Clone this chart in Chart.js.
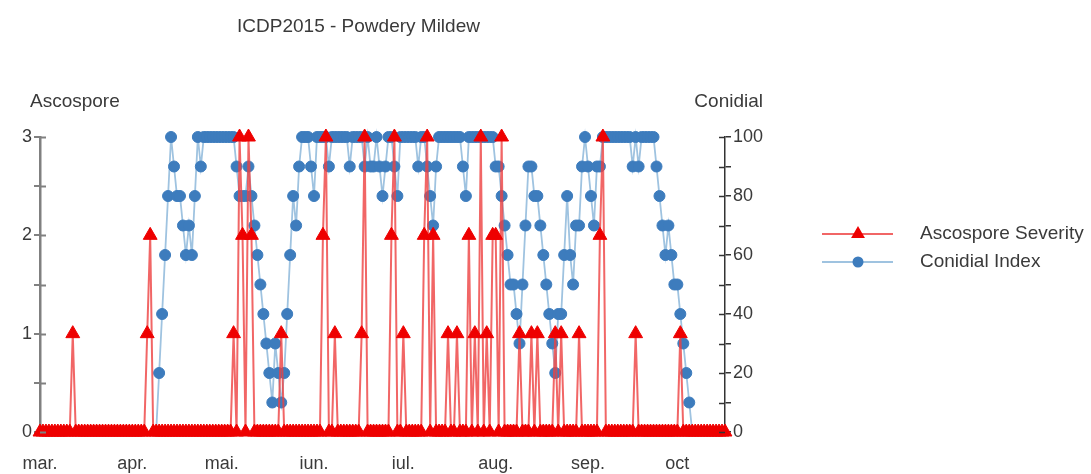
<!DOCTYPE html>
<html>
<head>
<meta charset="utf-8">
<title>ICDP2015 - Powdery Mildew</title>
<script src="https://cdn.jsdelivr.net/npm/chart.js@4.4.1/dist/chart.umd.min.js"></script>
<style>
  html, body { margin: 0; padding: 0; background: #ffffff; }
  #chart { display: block; }
</style>
</head>
<body>
<canvas id="chart" width="1091" height="474"></canvas>
<script>
// Daily readings, 1 March (day 0) to 17 October (day 230)
const chartTitle = 'ICDP2015 - Powdery Mildew';
const leftAxisTitle = 'Ascospore';
const rightAxisTitle = 'Conidial';
const seriesNames = ['Ascospore Severity', 'Conidial Index'];

const monthLabels = ['mar.', 'apr.', 'mai.', 'iun.', 'iul.', 'aug.', 'sep.', 'oct'];
const monthStartDays = [0, 31, 61, 92, 122, 153, 184, 214];

// Ascospore severity (0-3), one value per day
const ascosporeSeverity = [
  0, 0, 0, 0, 0, 0, 0, 0, 0, 0,
  0, 1, 0, 0, 0, 0, 0, 0, 0, 0,
  0, 0, 0, 0, 0, 0, 0, 0, 0, 0,
  0, 0, 0, 0, 0, 0, 1, 2, 0, 0,
  0, 0, 0, 0, 0, 0, 0, 0, 0, 0,
  0, 0, 0, 0, 0, 0, 0, 0, 0, 0,
  0, 0, 0, 0, 0, 1, 0, 3, 2, 0,
  3, 2, 0, 0, 0, 0, 0, 0, 0, 0,
  0, 1, 0, 0, 0, 0, 0, 0, 0, 0,
  0, 0, 0, 0, 0, 2, 3, 0, 0, 1,
  0, 0, 0, 0, 0, 0, 0, 0, 1, 3,
  0, 0, 0, 0, 0, 0, 0, 0, 2, 3,
  0, 0, 1, 0, 0, 0, 0, 0, 0, 2,
  3, 0, 2, 0, 0, 0, 0, 1, 0, 0,
  1, 0, 0, 0, 2, 0, 1, 0, 3, 0,
  1, 0, 2, 2, 0, 3, 0, 0, 0, 0,
  0, 1, 0, 0, 0, 1, 0, 1, 0, 0,
  0, 0, 0, 1, 0, 1, 0, 0, 0, 0,
  0, 1, 0, 0, 0, 0, 0, 0, 2, 3,
  0, 0, 0, 0, 0, 0, 0, 0, 0, 0,
  1, 0, 0, 0, 0, 0, 0, 0, 0, 0,
  0, 0, 0, 0, 0, 1, 0, 0, 0, 0,
  0, 0, 0, 0, 0, 0, 0, 0, 0, 0,
  0
];

// Conidial index (0-100), one value per day
const conidialIndex = [
  0, 0, 0, 0, 0, 0, 0, 0, 0, 0,
  0, 0, 0, 0, 0, 0, 0, 0, 0, 0,
  0, 0, 0, 0, 0, 0, 0, 0, 0, 0,
  0, 0, 0, 0, 0, 0, 0, 0, 0, 0,
  20, 40, 60, 80, 100, 90, 80, 80, 70, 60,
  70, 60, 80, 100, 90, 100, 100, 100, 100, 100,
  100, 100, 100, 100, 100, 100, 90, 80, 80, 80,
  90, 80, 70, 60, 50, 40, 30, 20, 10, 30,
  20, 10, 20, 40, 60, 80, 70, 90, 100, 100,
  100, 90, 80, 100, 100, 100, 100, 90, 100, 100,
  100, 100, 100, 100, 90, 100, 100, 100, 100, 90,
  100, 90, 90, 100, 90, 80, 90, 100, 100, 90,
  80, 100, 100, 100, 100, 100, 100, 90, 100, 100,
  90, 80, 70, 90, 100, 100, 100, 100, 100, 100,
  100, 100, 90, 80, 100, 100, 100, 100, 100, 100,
  100, 100, 100, 90, 90, 80, 70, 60, 50, 50,
  40, 30, 50, 70, 90, 90, 80, 80, 70, 60,
  50, 40, 30, 20, 40, 40, 60, 80, 60, 50,
  70, 70, 90, 100, 90, 80, 70, 90, 90, 100,
  100, 100, 100, 100, 100, 100, 100, 100, 100, 90,
  100, 90, 100, 100, 100, 100, 100, 90, 80, 70,
  60, 70, 60, 50, 50, 40, 30, 20, 10, 0,
  0, 0, 0, 0, 0, 0, 0, 0, 0, 0,
  0
];

const textColor = '#3a3a3a';
const fontFamily = '"Liberation Sans", Arial, sans-serif';
const redLine = 'rgba(238, 64, 64, 0.8)';
const redMark = '#ee0000';
const blueLine = '#9fc3e0';
const blueMark = '#3d7cbd';
const triangleRadius = 8;
const dotRadius = 5.5;

const toPoints = arr => arr.map((v, i) => ({ x: i, y: v }));

// Titles, inner halves of the axis ticks and the line+marker legend
const decorations = {
  id: 'decorations',
  afterDraw(chart) {
    const { ctx, chartArea, scales } = chart;
    ctx.save();

    const inner = [
      { id: 'y', x0: chartArea.left, dir: 1, color: '#808080', width: 2 },
      { id: 'y1', x0: chartArea.right, dir: -1, color: '#333333', width: 1.5 }
    ];
    inner.forEach(a => {
      const s = scales[a.id];
      ctx.strokeStyle = a.color;
      ctx.lineWidth = a.width;
      s.ticks.forEach(t => {
        const y = Math.round(s.getPixelForValue(t.value)) + 0.5;
        ctx.beginPath();
        ctx.moveTo(a.x0, y);
        ctx.lineTo(a.x0 + a.dir * 6, y);
        ctx.stroke();
      });
    });

    ctx.fillStyle = textColor;
    ctx.font = '19px ' + fontFamily;
    ctx.textBaseline = 'middle';
    ctx.textAlign = 'center';
    ctx.fillText(chartTitle, (chartArea.left + chartArea.right) / 2 - 24, 27);
    ctx.textAlign = 'left';
    ctx.fillText(leftAxisTitle, chartArea.left - 10, 102);
    ctx.textAlign = 'right';
    ctx.fillText(rightAxisTitle, chartArea.right + 38, 102);

    // legend
    const lx0 = chartArea.right + 97, lx1 = chartArea.right + 168, mx = chartArea.right + 133;
    chart.data.datasets.forEach((ds, i) => {
      const y = 234 + i * 28;
      ctx.strokeStyle = ds.borderColor;
      ctx.lineWidth = 2;
      ctx.beginPath();
      ctx.moveTo(lx0, y);
      ctx.lineTo(lx1, y);
      ctx.stroke();
      ctx.fillStyle = ds.pointBackgroundColor;
      ctx.beginPath();
      if (ds.pointStyle === 'triangle') {
        const r = triangleRadius;
        ctx.moveTo(mx, y - r);
        ctx.lineTo(mx + r * Math.sin(2 * Math.PI / 3), y + r / 2);
        ctx.lineTo(mx - r * Math.sin(2 * Math.PI / 3), y + r / 2);
        ctx.closePath();
      } else {
        ctx.arc(mx, y, dotRadius, 0, Math.PI * 2);
      }
      ctx.fill();
      ctx.fillStyle = textColor;
      ctx.textAlign = 'left';
      ctx.fillText(ds.label, chartArea.right + 195, y);
    });

    ctx.restore();
  }
};

new Chart(document.getElementById('chart'), {
  type: 'line',
  data: {
    datasets: [
      {
        label: seriesNames[0],
        data: toPoints(ascosporeSeverity),
        yAxisID: 'y',
        borderColor: redLine,
        borderWidth: 2,
        pointStyle: 'triangle',
        pointRadius: triangleRadius,
        pointBackgroundColor: redMark,
        pointBorderColor: redMark,
        pointBorderWidth: 1,
        tension: 0,
        clip: false
      },
      {
        label: seriesNames[1],
        data: toPoints(conidialIndex),
        yAxisID: 'y1',
        borderColor: blueLine,
        borderWidth: 1.8,
        pointStyle: 'circle',
        pointRadius: c => (c.parsed && c.parsed.y === 0 ? 0 : dotRadius),
        pointBackgroundColor: blueMark,
        pointBorderColor: blueMark,
        pointBorderWidth: 1,
        tension: 0,
        clip: false
      }
    ]
  },
  options: {
    responsive: false,
    animation: false,
    devicePixelRatio: 1,
    events: [],
    layout: { padding: { top: 137, right: 321, bottom: 0, left: 0 } },
    plugins: {
      legend: { display: false },
      title: { display: false },
      tooltip: { enabled: false }
    },
    scales: {
      x: {
        type: 'linear',
        min: 0,
        max: ascosporeSeverity.length - 1,
        afterBuildTicks: s => { s.ticks = monthStartDays.map(v => ({ value: v })); },
        afterFit: s => { s.height = 42; },
        grid: { display: false, drawTicks: false },
        border: { display: false },
        ticks: {
          autoSkip: false,
          maxRotation: 0,
          padding: 21,
          color: textColor,
          font: { family: fontFamily, size: 18 },
          callback: (v, i) => monthLabels[i]
        }
      },
      y: {
        position: 'left',
        min: 0,
        max: 3,
        afterFit: s => { s.width = 40; },
        grid: { drawOnChartArea: false, color: '#808080', lineWidth: 2, tickLength: 6 },
        border: { color: '#808080', width: 2.5 },
        ticks: {
          stepSize: 0.5,
          padding: 2,
          color: textColor,
          font: { family: fontFamily, size: 18 },
          callback: v => (Number.isInteger(v) ? String(v) : '')
        }
      },
      y1: {
        position: 'right',
        min: 0,
        max: 100,
        afterFit: s => { s.width = 45; },
        grid: { drawOnChartArea: false, color: '#333333', lineWidth: 1.5, tickLength: 6 },
        border: { color: '#333333', width: 1.5 },
        ticks: {
          stepSize: 10,
          padding: 2,
          color: textColor,
          font: { family: fontFamily, size: 18 },
          callback: v => (v % 20 === 0 ? String(v) : '')
        }
      }
    }
  },
  plugins: [decorations]
});
</script>
</body>
</html>
